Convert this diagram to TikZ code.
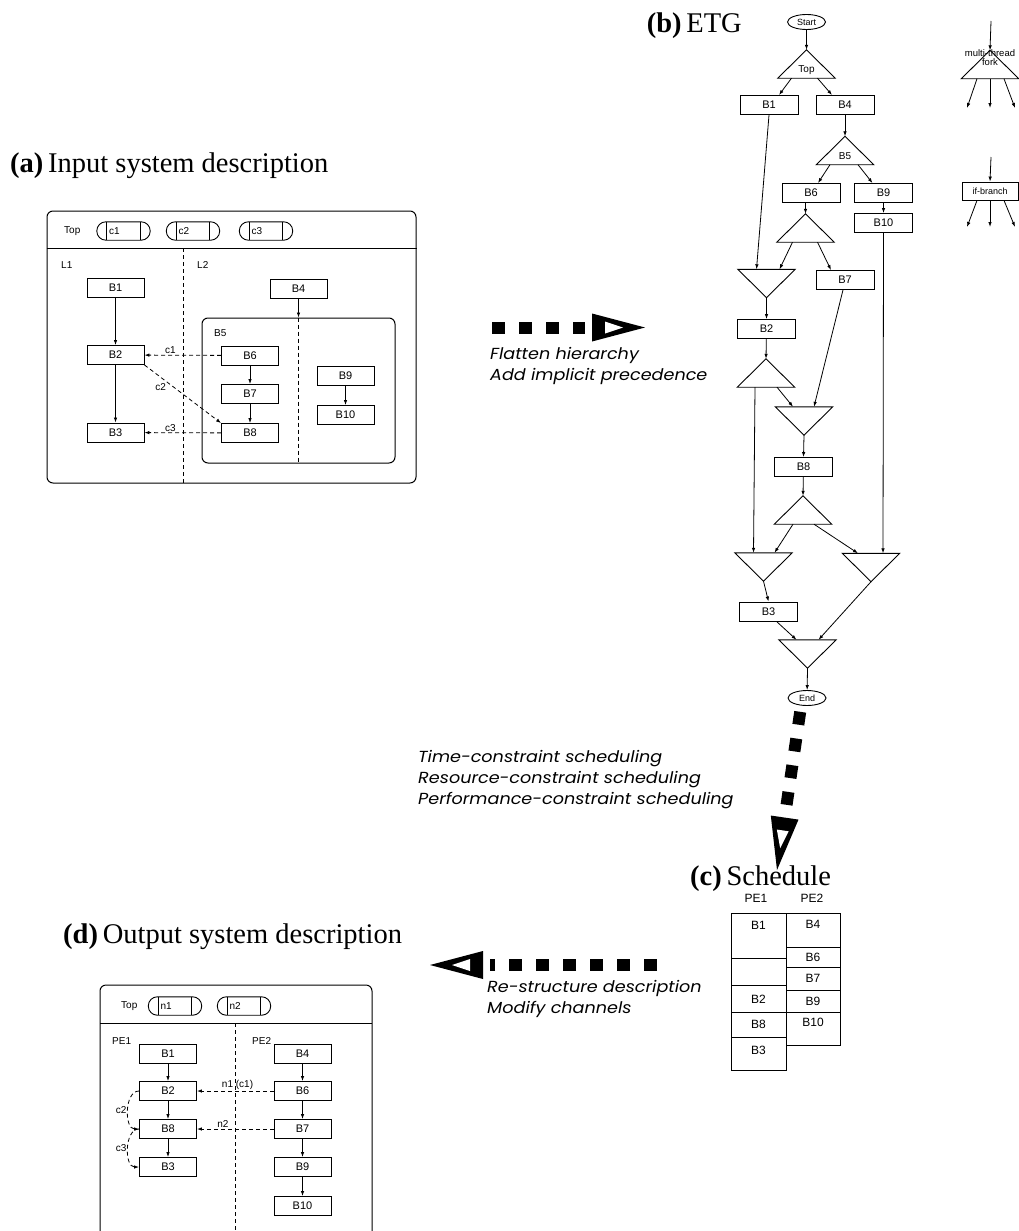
\documentclass[tikz,border=0pt]{standalone}
\usepackage{fontspec}
\setmainfont{Liberation Serif}
\setsansfont{Liberation Sans}
\newfontfamily\notefont[FakeStretch=1.1]{Poppins}
\usetikzlibrary{arrows.meta,positioning,calc,shapes.geometric}
\tikzset{
  blk/.style={draw, line width=0.9pt, minimum width=57pt, minimum height=19pt, inner sep=0pt, font=\sffamily\fontsize{11}{11}\selectfont},
  etg/.style={blk, minimum width=58pt},
  tri/.style={minimum width=57pt, minimum height=28pt, inner sep=0pt},
  term/.style={draw, ellipse, line width=0.9pt, minimum width=38pt, minimum height=15pt, inner sep=0pt, font=\sffamily\fontsize{9}{9}\selectfont},
  frame/.style={draw, line width=1pt, rounded corners=6pt, inner sep=0pt},
  cell/.style={draw, line width=1pt, minimum width=55pt, inner sep=0pt},
  cellfont/.style={font=\sffamily\fontsize{12}{12}\selectfont, inner sep=0pt},
  arrow/.style={-{Latex[length=5pt,width=3.5pt]}, line width=0.8pt},
  dasharrow/.style={arrow, dash pattern=on 4pt off 3pt},
  divider/.style={line width=0.9pt, dash pattern=on 4pt off 3pt},
  lbl/.style={font=\sffamily\fontsize{10}{10}\selectfont, inner sep=1pt},
  tinylbl/.style={font=\sffamily\fontsize{9.5}{8.5}\selectfont, inner sep=0pt, align=center},
  title/.style={font=\fontsize{28.5}{30}\selectfont, inner sep=0pt},
  note/.style={font=\notefont\itshape\fontsize{16}{21}\selectfont, align=left, inner sep=0pt},
  chan/.style={minimum width=33pt, minimum height=18pt, inner sep=2pt, text width=29pt, align=left, font=\sffamily\fontsize{10}{10}\selectfont},
  bigdash/.style={line width=12pt, dash pattern=on 13pt off 14pt},
  bighead/.pic={
    \fill (0,0) -- (-53,-14) -- (-53,14) -- cycle;
    \fill[white] (-40,-6) -- (-40,6) -- (-22,0) -- cycle;
  },
}
% channel: capsule with two inner bars
\newcommand{\chan}[3]{%
  \node[chan] (#1) at (#2) {#3};
  \draw[line width=0.9pt] (#1.north west) -- (#1.south west) (#1.north east) -- (#1.south east);
  \draw[line width=0.9pt, rounded corners=9pt] ([xshift=-10pt]#1.south west) rectangle ([xshift=10pt]#1.north east);
}
% fork (apex up) and join (apex down) of the ETG
\newcommand{\etgfork}[3]{%
  \node[tri, label={[lbl, yshift=-6pt]center:#3}] (#1) at (#2) {};
  \draw[line width=0.9pt] (#1.north) -- (#1.south west) -- (#1.south east) -- cycle;
}
\newcommand{\etgjoin}[2]{%
  \node[tri] (#1) at (#2) {};
  \draw[line width=0.9pt] (#1.north west) -- (#1.north east) -- (#1.south) -- cycle;
}
\begin{document}
\begin{tikzpicture}[x=1pt, y=-1pt]
  \useasboundingbox (0,0) rectangle (1018,1231);

  % (a) Input system description
  \node[title, anchor=base west] (ta) at (10,172) {\textbf{(a)}\,Input system description};
  \node[frame, minimum width=369pt, minimum height=272pt] (sysa) at (231.5,347) {};
  \draw[line width=0.9pt] (sysa.west |- 0,248) -- (sysa.east |- 0,248);
  \node[lbl, anchor=west] (topa) at (63,231) {Top};
  \chan{ca1}{123.5,231}{c1}
  \chan{ca2}{193,231}{c2}
  \chan{ca3}{266,231}{c3}
  \draw[divider] (183,248) -- (183,483);
  \node[lbl, anchor=west] (l1) at (60,265) {L1};
  \node[lbl, anchor=west] (l2) at (196,265) {L2};
  \node[blk] (a1) at (115.5,287.5) {B1};
  \node[blk] (a2) at (115.5,355) {B2};
  \node[blk] (a3) at (115.5,432.5) {B3};
  \node[blk] (a4) at (298.5,289) {B4};
  \node[frame, minimum width=193pt, minimum height=145pt] (a5) at (298.5,390.5) {};
  \node[lbl, anchor=west] (a5lbl) at (213,333) {B5};
  \node[blk] (a6) at (250,355.5) {B6};
  \node[blk] (a7) at (250,394) {B7};
  \node[blk] (a8) at (250,433) {B8};
  \node[blk] (a9) at (345.5,376) {B9};
  \node[blk] (a10) at (345.5,415) {B10};
  \draw[divider] (a5.north) -- (a5.south);
  \draw[arrow] (a1) -- (a2);
  \draw[arrow] (a2) -- (a3);
  \draw[arrow] (a4) -- (a5.north);
  \draw[arrow] (a6) -- (a7);
  \draw[arrow] (a7) -- (a8);
  \draw[arrow] (a9) -- (a10);
  \draw[dasharrow] (a6) -- node[lbl, above, pos=0.66] {c1} (a2);
  \draw[dasharrow] (a2.south east) -- node[lbl, below left, pos=0.3] {c2} (a8.north west);
  \draw[dasharrow] (a8) -- node[lbl, above, pos=0.66] {c3} (a3);

  % flatten
  \coordinate (fa1) at (492,327.5);
  \coordinate (fa2) at (585,327.5);
  \coordinate (fatip) at (645,327.5);
  \draw[bigdash] (fa1) -- (fa2);
  \pic at (fatip) {bighead};
  \node[note, anchor=north west] (flat) at (490,347) {Flatten hierarchy\\Add implicit precedence};

  % (b) ETG
  \node[title, anchor=base east] (tb) at (742,33) {\textbf{(b)}\,ETG};
  \node[term] (start) at (806.5,22) {Start};
  \etgfork{top}{806.5,64}{Top}
  \node[etg] (e1) at (769,105) {B1};
  \node[etg] (e4) at (845,105) {B4};
  \etgfork{b5}{845,150.5}{B5}
  \node[etg] (e6) at (811,193) {B6};
  \node[etg] (e9) at (883.5,193) {B9};
  \node[etg] (e10) at (883.5,223) {B10};
  \etgfork{f1}{805.5,228}{}
  \etgjoin{j1}{766.5,283.5}
  \node[etg] (e7) at (845,280) {B7};
  \node[etg] (e2) at (766.5,329) {B2};
  \etgfork{f2}{766,373}{}
  \etgjoin{j2}{804,421}
  \node[etg] (e8) at (803.5,467) {B8};
  \etgfork{f3}{803,510}{}
  \etgjoin{j3}{763.5,567}
  \etgjoin{j4}{871,567.5}
  \node[etg] (e3) at (768.5,611.5) {B3};
  \etgjoin{j5}{807.5,654}
  \node[term] (end) at (807,698) {End};

  \draw[arrow] (start) -- (top.north);
  \draw[arrow] ([xshift=-15pt]top.south) -- ([xshift=10pt]e1.north);
  \draw[arrow] ([xshift=11pt]top.south) -- ([xshift=-13pt]e4.north);
  \draw[arrow] (e4) -- (b5.north);
  \draw[arrow] ([xshift=-15pt]b5.south) -- ([xshift=7pt]e6.north);
  \draw[arrow] ([xshift=13pt]b5.south) -- ([xshift=-11pt]e9.north);
  \draw[arrow] (f1.north |- e6.south) -- (f1.north);
  \draw[arrow] (e9) -- (e10);
  \draw[arrow] ([xshift=-13pt]f1.south) -- ([xshift=13pt]j1.north);
  \draw[arrow] ([xshift=12pt]f1.south) -- ([xshift=-14pt]e7.north);
  \draw[arrow] (e1.south) -- ([xshift=-10pt]j1.north);
  \draw[arrow] (e10.south) -- ([xshift=12pt]j4.north);
  \draw[arrow] (j1.south) -- (e2.north);
  \draw[arrow] ([xshift=-2pt]e7.south) -- ([xshift=10pt]j2.north);
  \draw[arrow] (e2) -- (f2.north);
  \draw[arrow] ([xshift=-11pt]f2.south) -- ([xshift=-10pt]j3.north);
  \draw[arrow] ([xshift=11pt]f2.south) -- ([xshift=-11pt]j2.north);
  \draw[arrow] (j2.south) -- (e8.north);
  \draw[arrow] (e8) -- (f3.north);
  \draw[arrow] ([xshift=-10pt]f3.south) -- ([xshift=11pt]j3.north);
  \draw[arrow] ([xshift=11pt]f3.south) -- ([xshift=-13pt]j4.north);
  \draw[arrow] (j3.south) -- (e3.north);
  \draw[arrow] ([xshift=8pt]e3.south) -- ([xshift=-11pt]j5.north);
  \draw[arrow] (j4.south) -- ([xshift=11pt]j5.north);
  \draw[arrow] (j5.south) -- (end);

  % legend
  \etgfork{mt}{990,64.5}{}
  \node[tinylbl] (mtlbl) at (990,57.5) {multi-thread\\fork};
  \coordinate (mtin) at (991,21);
  \coordinate (mto1) at (967,108);
  \coordinate (mto2) at (990,108);
  \coordinate (mto3) at (1015,108);
  \draw[arrow] (mtin) -- (mt.north);
  \draw[arrow] ([xshift=-13pt]mt.south) -- (mto1);
  \draw[arrow] (mt.south) -- (mto2);
  \draw[arrow] ([xshift=14pt]mt.south) -- (mto3);
  \node[etg, minimum width=56pt, minimum height=18pt, font=\sffamily\fontsize{9}{9}\selectfont] (ib) at (990,191) {if-branch};
  \coordinate (ibin) at (991,157);
  \coordinate (ibo1) at (967,227);
  \coordinate (ibo2) at (990,227);
  \coordinate (ibo3) at (1015,227);
  \draw[arrow] (ibin) -- (ib.north);
  \draw[arrow] ([xshift=-13pt]ib.south) -- (ibo1);
  \draw[arrow] (ib.south) -- (ibo2);
  \draw[arrow] ([xshift=14pt]ib.south) -- (ibo3);

  % scheduling
  \coordinate (sa1) at (800.2,711.8);
  \coordinate (sa2) at (785.7,810.7);
  \coordinate (satip) at (777,870);
  \draw[bigdash] (sa1) -- (sa2);
  \pic[rotate=-98.3] at (satip) {bighead};
  \node[note, anchor=north west] (sched) at (418,750) {Time-constraint scheduling\\Resource-constraint scheduling\\Performance-constraint scheduling};

  % (c) Schedule
  \node[title, anchor=base west] (tc) at (690,885) {\textbf{(c)}\,Schedule};
  \node[cellfont] (pe1c) at (756,898) {PE1};
  \node[cellfont] (pe2c) at (812,898) {PE2};
  \node[cell, minimum height=45pt, label={[cellfont, yshift=10pt]center:B1}] (s1) at (758.5,935.5) {};
  \node[cell, minimum height=27pt] (s0) at (758.5,971.5) {};
  \node[cell, minimum height=27pt, label={[cellfont, yshift=-1pt]center:B2}] (s2) at (758.5,998.5) {};
  \node[cell, minimum height=25pt, label={[cellfont, yshift=0pt]center:B8}] (s8) at (758.5,1024.5) {};
  \node[cell, minimum height=33pt, label={[cellfont, yshift=3pt]center:B3}] (s3) at (758.5,1053.5) {};
  \node[cell, minimum width=54pt, minimum height=34pt, label={[cellfont, yshift=6pt]center:B4}] (s4) at (813,930) {};
  \node[cell, minimum width=54pt, minimum height=20pt, label={[cellfont]center:B6}] (s6) at (813,957) {};
  \node[cell, minimum width=54pt, minimum height=23pt, label={[cellfont]center:B7}] (s7) at (813,978.5) {};
  \node[cell, minimum width=54pt, minimum height=22pt, label={[cellfont]center:B9}] (s9) at (813,1001) {};
  \node[cell, minimum width=54pt, minimum height=33pt, label={[cellfont, yshift=6pt]center:B10}] (s10) at (813,1028.5) {};

  % re-structure
  \coordinate (ra1) at (657,965);
  \coordinate (ra2) at (490,965);
  \coordinate (ratip) at (430,965);
  \draw[bigdash] (ra1) -- (ra2);
  \pic[rotate=180] at (ratip) {bighead};
  \node[note, anchor=north west] (restr) at (487,980) {Re-structure description\\Modify channels};

  % (d) Output system description
  \node[title, anchor=base west] (td) at (63,943) {\textbf{(d)}\,Output system description};
  \draw[line width=1pt, rounded corners=6pt] (100,1240) -- (100,985) -- (372,985) -- (372,1240);
  \draw[line width=0.9pt] (100,1023) -- (372,1023);
  \node[lbl, anchor=west] (topd) at (120,1006) {Top};
  \chan{n1}{175,1006}{n1}
  \chan{n2}{244,1006}{n2}
  \draw[divider] (235,1023) -- (235,1240);
  \node[lbl, anchor=west] (pe1d) at (111,1041) {PE1};
  \node[lbl, anchor=west] (pe2d) at (251,1041) {PE2};
  \node[blk] (d1) at (168,1054) {B1};
  \node[blk] (d2) at (168,1091) {B2};
  \node[blk] (d8) at (168,1129) {B8};
  \node[blk] (d3) at (168,1167) {B3};
  \node[blk] (d4) at (302.5,1054) {B4};
  \node[blk] (d6) at (302.5,1091) {B6};
  \node[blk] (d7) at (302.5,1129) {B7};
  \node[blk] (d9) at (302.5,1167) {B9};
  \node[blk] (d10) at (302.5,1206) {B10};
  \draw[arrow] (d1) -- (d2);
  \draw[arrow] (d2) -- (d8);
  \draw[arrow] (d8) -- (d3);
  \draw[arrow] (d4) -- (d6);
  \draw[arrow] (d6) -- (d7);
  \draw[arrow] (d7) -- (d9);
  \draw[arrow] (d9) -- (d10);
  \draw[dasharrow] (d6) -- node[lbl, above, pos=0.47] {n1 (c1)} (d2);
  \draw[dasharrow] (d7) -- node[lbl, above, pos=0.66] {n2} (d8);
  \draw[dasharrow] (d2.west) to[out=180, in=180, looseness=1] node[lbl, left] {c2} (d8.west);
  \draw[dasharrow] (d8.west) to[out=180, in=180, looseness=1] node[lbl, left] {c3} (d3.west);
\end{tikzpicture}
\end{document}
